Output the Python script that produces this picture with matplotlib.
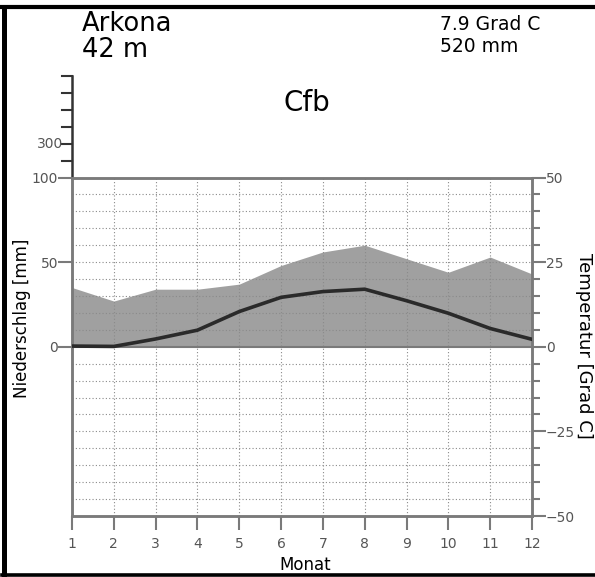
import matplotlib
matplotlib.use("Agg")
import matplotlib.pyplot as plt
from matplotlib.lines import Line2D
import matplotlib.transforms as mtransforms

months = [1, 2, 3, 4, 5, 6, 7, 8, 9, 10, 11, 12]
precip_mm = [35, 27, 34, 34, 37, 48, 56, 60, 52, 44, 53, 43]
temp_c = [0.2, 0.1, 2.3, 4.9, 10.4, 14.6, 16.3, 17.0, 13.6, 9.9, 5.4, 2.2]
station = "Arkona"
elevation = "42 m"
mean_temp_text = "7.9 Grad C"
annual_precip_text = "520 mm"
climate_class = "Cfb"
left_ticks = [0, 50, 100]
right_ticks = [-50, -25, 0, 25, 50]
ext_ticks = [200, 300, 400, 500, 600, 700]

W, H = 595, 577
fig = plt.figure(figsize=(W / 100, H / 100), dpi=100)
plt.rcParams['font.family'] = ['DejaVu Sans']

# frame (left, top, bottom; no right border)
def fx(px):
    return px / W
def fy(py):
    return 1 - py / H
fig.lines.append(Line2D([fx(3.5), fx(3.5)], [fy(7), fy(575.5)], transform=fig.transFigure,
                        color='black', linewidth=3.6))
fig.lines.append(Line2D([fx(2), fx(595)], [fy(7), fy(7)], transform=fig.transFigure,
                        color='black', linewidth=3.0))
fig.lines.append(Line2D([fx(2), fx(595)], [fy(575.3), fy(575.3)], transform=fig.transFigure,
                        color='black', linewidth=2.6))

x0, x1, yt, yb = 72, 532, 177.5, 516
ax = fig.add_axes([x0 / W, (H - yb) / H, (x1 - x0) / W, (yb - yt) / H])
ax.set_xlim(1, 12)
ax.set_ylim(-100, 100)

axis_col = '#7a7a7a'
grid_col = '#8a8a8a'

ax.fill_between(months, 0, precip_mm, color='#a0a0a0', linewidth=0, zorder=1)

for g in range(-90, 100, 10):
    if g == 0:
        continue
    ax.axhline(g, color=grid_col, linewidth=0.8, linestyle=(0, (1, 2)), zorder=2)
for m in months[1:-1]:
    ax.axvline(m, color=grid_col, linewidth=0.8, linestyle=(0, (1, 2)), zorder=2)
ax.axhline(0, color=axis_col, linewidth=1.5, zorder=2)

for s in ax.spines.values():
    s.set_color(axis_col)
    s.set_linewidth(1.8)

ax.set_yticks(left_ticks)
ax.set_yticklabels([str(v) for v in left_ticks])
ax.tick_params(axis='y', direction='out', length=10, width=1.5, color=axis_col,
               labelcolor='#555555', labelsize=10, pad=0)
ax.set_xticks(months)
ax.set_xticklabels([str(m) for m in months])
ax.tick_params(axis='x', direction='out', length=10, width=1.5, color=axis_col,
               labelcolor='#555555', labelsize=10, pad=5)

# extension of precipitation scale above 100 mm (1/10 scale)
trans = mtransforms.blended_transform_factory(ax.transAxes, ax.transData)
ext_y = [100 + (v - 100) / 10 for v in ext_ticks]
ax.plot([0, 0], [100, ext_y[-1]], color='#333333', linewidth=1.8,
        transform=trans, clip_on=False)
tick_len = 10 / (x1 - x0)
for v, y in zip(ext_ticks, ext_y):
    ax.plot([-tick_len, 0], [y, y], color='#333333', linewidth=1.5, transform=trans, clip_on=False)
    if v == 300:
        ax.text(-tick_len + 0.002, y, "300", transform=trans, ha='right', va='center',
                fontsize=10, color='#555555')

ax2 = ax.twinx()
ax2.set_ylim(-50, 50)
ax2.set_yticks(right_ticks)
ax2.set_yticklabels(['\u221250', '\u221225', '0', '25', '50'])
ax2.set_yticks(list(range(-45, 50, 5)), minor=True)
ax2.tick_params(axis='y', which='major', direction='out', length=10, width=1.5, color=axis_col,
                labelcolor='#555555', labelsize=10, pad=0)
ax2.tick_params(axis='y', which='minor', direction='out', length=6, width=1.5, color=axis_col)
for s in ax2.spines.values():
    s.set_color(axis_col)
    s.set_linewidth(1.8)
ax2.plot(months, temp_c, color='#2a2a2a', linewidth=2.6, zorder=5, solid_capstyle='round')

# texts
fig.text(82 / W, 1 - 24 / H, station, fontsize=18.5, ha='left', va='center')
fig.text(82 / W, 1 - 50 / H, elevation, fontsize=18.5, ha='left', va='center')
fig.text(440 / W, 1 - 24 / H, mean_temp_text, fontsize=13.5, ha='left', va='center')
fig.text(440 / W, 1 - 46 / H, annual_precip_text, fontsize=13.5, ha='left', va='center')
fig.text(307 / W, 1 - 103 / H, climate_class, fontsize=20, ha='center', va='center')
fig.text(22 / W, 1 - 318 / H, "Niederschlag [mm]", fontsize=12, rotation=90, ha='center', va='center')
fig.text(584 / W, 1 - 346 / H, "Temperatur [Grad C]", fontsize=13, rotation=270, ha='center', va='center')
fig.text(305 / W, 1 - 565 / H, "Monat", fontsize=12, ha='center', va='center')

fig.savefig("out.png", dpi=100)
